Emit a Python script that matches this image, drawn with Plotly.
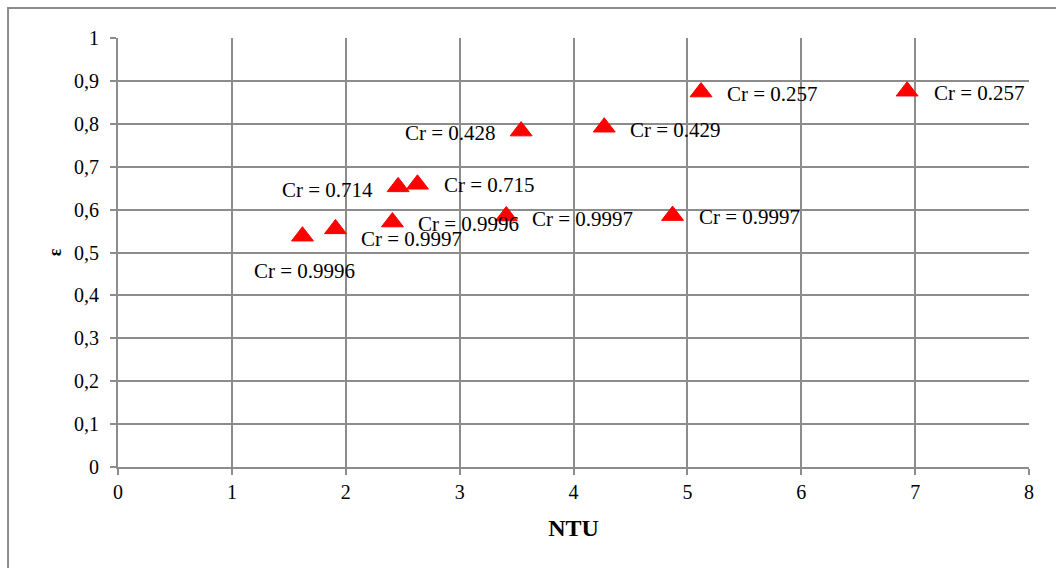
import plotly.graph_objects as go

# Measured effectiveness vs. number of transfer units, labelled by capacity ratio
ntu = [1.62, 1.91, 2.41, 2.46, 2.63, 3.41, 3.54, 4.27, 5.12, 4.87, 6.93]
eps = [0.538, 0.555, 0.571, 0.653, 0.659, 0.585, 0.783, 0.792, 0.874, 0.586, 0.876]
cr_labels = ["Cr = 0.9996", "Cr = 0.9997", "Cr = 0.9996", "Cr = 0.714", "Cr = 0.715",
             "Cr = 0.9997", "Cr = 0.428", "Cr = 0.429", "Cr = 0.257", "Cr = 0.9997",
             "Cr = 0.257"]

x_ticks = [0, 1, 2, 3, 4, 5, 6, 7, 8]
y_ticks = [0, 0.1, 0.2, 0.3, 0.4, 0.5, 0.6, 0.7, 0.8, 0.9, 1.0]

# label placement per point: (xanchor, xshift, yshift)
label_pos = [
    ("center", 2, -35),
    ("left", 23, -10),
    ("left", 24, -2),
    ("right", -23, -3),
    ("left", 25, -1),
    ("left", 24, -3),
    ("right", -23, -2),
    ("left", 24, -3),
    ("left", 24, -2),
    ("left", 24, -1),
    ("left", 25, -2),
]

SERIF = "Liberation Serif"
GRID = "#8c8c8c"

fig = go.Figure()
fig.add_trace(go.Scatter(
    x=ntu, y=eps, mode="markers",
    marker=dict(symbol="triangle-up", size=19, color="#ff0000", line=dict(width=1, color="#ff0000")),
    showlegend=False, hoverinfo="skip",
))

for xv, yv, txt, (anc, dx, dy) in zip(ntu, eps, cr_labels, label_pos):
    fig.add_annotation(
        x=xv, y=yv, text=txt, showarrow=False,
        xanchor=anc, yanchor="middle", xshift=dx, yshift=dy,
        font=dict(family=SERIF, size=21, color="#000000"),
    )

# outer chart frame
fig.add_shape(
    type="rect", xref="paper", yref="paper",
    x0=-0.1207, x1=1.2, y0=-0.5, y1=1.0699,
    line=dict(color=GRID, width=2), fillcolor="rgba(0,0,0,0)", layer="below",
)

fig.update_xaxes(
    range=[0, 8], tickvals=x_ticks, showgrid=True, gridcolor=GRID, gridwidth=2,
    zeroline=False, showline=True, linecolor=GRID, linewidth=2,
    ticks="outside", ticklen=6, tickwidth=2, tickcolor=GRID,
    tickfont=dict(family=SERIF, size=20, color="#000000"),
    title=dict(text="<b>NTU</b>", font=dict(family=SERIF, size=24, color="#000000"), standoff=17),
    mirror=False,
)
fig.update_yaxes(
    range=[0, 1], tickvals=y_ticks, showgrid=True, gridcolor=GRID, gridwidth=2,
    zeroline=False, showline=True, linecolor=GRID, linewidth=2,
    ticks="outside", ticklen=6, tickwidth=2, tickcolor=GRID,
    ticklabelstandoff=7,
    tickfont=dict(family=SERIF, size=20, color="#000000"),
    title=dict(text="<b>ε</b>", font=dict(family=SERIF, size=18, color="#000000"), standoff=8),
)

fig.update_layout(
    width=1056, height=568,
    margin=dict(l=118, r=27, t=38, b=101),
    paper_bgcolor="#ffffff", plot_bgcolor="#ffffff",
    separators=", ",
)

fig.write_html("out.html")
